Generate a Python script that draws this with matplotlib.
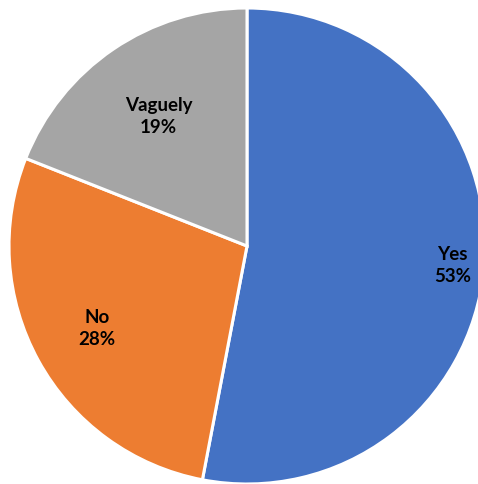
import matplotlib.pyplot as plt
import numpy as np

# respuestas de la encuesta
categorias = ['Yes', 'No', 'Vaguely']
porcentajes = [53, 28, 19]
colores = ['#4472C4', '#ED7D31', '#A5A5A5']

# distancia radial de cada etiqueta (fraccion del radio)
dist_etiqueta = [0.866, 0.72, 0.66]

fig = plt.figure(figsize=(4.78, 4.84), dpi=100)
ax = fig.add_axes([0, 0, 1, 1])
ax.set_xlim(0, 478)
ax.set_ylim(0, 484)
ax.axis('off')

centro = (247, 238)
radio = 238

wedges, _ = ax.pie(porcentajes,
                   colors=colores,
                   startangle=90,
                   counterclock=False,
                   center=centro,
                   radius=radio,
                   frame=True,
                   wedgeprops=dict(edgecolor='white', linewidth=2.2))
ax.set_xlim(0, 478)
ax.set_ylim(0, 484)
ax.axis('off')

for w, cat, pct, d in zip(wedges, categorias, porcentajes, dist_etiqueta):
    ang = np.deg2rad((w.theta1 + w.theta2) / 2)
    x = centro[0] + d * radio * np.cos(ang)
    y = centro[1] + d * radio * np.sin(ang)
    ax.text(x, y, cat + '\n' + str(pct) + '%',
            ha='center', va='center',
            fontsize=13.5, fontweight='bold', family='Lato',
            linespacing=1.35, color='black')

fig.savefig('out.png', dpi=100)
